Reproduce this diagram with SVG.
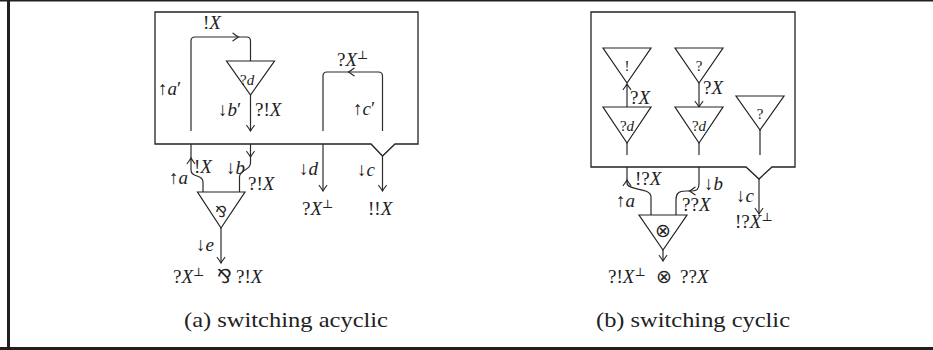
<svg xmlns="http://www.w3.org/2000/svg" width="933" height="350" viewBox="0 0 933 350">
<style>
.ln{fill:none;stroke:#2b2b2b;stroke-width:1.2}
.bx{fill:none;stroke:#222;stroke-width:1.3}
.tri{fill:#fff;stroke:#222;stroke-width:1.2}
.ar{fill:none;stroke:none}
.tx{font-family:'Liberation Serif','DejaVu Serif',serif;font-size:19px;fill:#222}
.i{font-style:italic}
.sm{font-size:15px}
.sup{font-size:12px}
.cap{font-family:'Liberation Serif','DejaVu Serif',serif;font-size:22px;fill:#222}
.sym{font-family:'DejaVu Sans',sans-serif}
.fr{stroke:#231f20;fill:none}
</style>
<defs>
<marker id="ah" viewBox="-7 -5 9 10" refX="0" refY="0" markerWidth="9" markerHeight="10" markerUnits="userSpaceOnUse" orient="auto" overflow="visible">
<path d="M-5.5,-3.8 Q-1.8,-1 0,0 Q-1.8,1 -5.5,3.8" fill="none" stroke="#2b2b2b" stroke-width="1.2" stroke-linecap="round"/>
</marker>
</defs>
<g id="frame">
<line class="fr" x1="8.5" y1="0" x2="8.5" y2="350" stroke-width="3"/>
<line class="fr" x1="0" y1="0.7" x2="933" y2="0.7" stroke-width="1.5"/>
<line class="fr" x1="0" y1="348.5" x2="933" y2="348.5" stroke-width="3"/>
</g>
<g id="box-a"><path class="bx" d="M155,12 H418 V144 H395 L382.5,156 L371,144 H155 Z"/></g>
<g id="box-b"><path class="bx" d="M591,12 H795 V167 H772 L759,179 L746,167 H591 Z"/></g>
<g id="connectors">
<path class="ln" d="M191,131 V41 Q191,37 195,37 H246.5 Q250.5,37 250.5,41 V61"/>
<path class="ar" d="M232,37 H238.5" marker-end="url(#ah)"/>
<path class="ln" d="M250.5,95 V131" marker-end="url(#ah)"/>
<path class="ln" d="M323,131 V76 Q323,72 327,72 H378.5 Q382.5,72 382.5,76 V131"/>
<path class="ar" d="M356,72 H348.5" marker-end="url(#ah)"/>
<path class="ln" d="M191,144 V170 C191,178 203,174 203,182 V192"/>
<path class="ar" d="M191,164 V158" marker-end="url(#ah)"/>
<path class="ln" d="M250.5,144 V163 C250.5,171 239.5,169 239.5,177 V192"/>
<path class="ar" d="M250.5,150 V157" marker-end="url(#ah)"/>
<path class="ln" d="M221,228 V263" marker-end="url(#ah)"/>
<path class="ln" d="M323,144 V191" marker-end="url(#ah)"/>
<path class="ln" d="M382.5,156 V191" marker-end="url(#ah)"/>
<path class="ln" d="M627,107 V84" marker-end="url(#ah)"/>
<path class="ln" d="M699,83 V107" marker-end="url(#ah)"/>
<path class="ln" d="M627,143 V155 M699,143 V155 M760,130 V155"/>
<path class="ln" d="M627,167 V183 C627,191 651,187 651,197 V215"/>
<path class="ar" d="M627,186 V180" marker-end="url(#ah)"/>
<path class="ln" d="M699,167 V184 C699,190 696,191 692,191 H686 C678,191 676,194 676,200 V215"/>
<path class="ar" d="M696,191 H689.5" marker-end="url(#ah)"/>
<path class="ln" d="M663,250 V261" marker-end="url(#ah)"/>
<path class="ln" d="M759,179 V214" marker-end="url(#ah)"/>
</g>
<g id="node-a-whynot-d"><polygon class="tri" points="226.5,61 274.5,61 250.5,95"/><text class="tx sm" x="240" y="85">?<tspan class="i">d</tspan></text></g>
<g id="node-a-par"><polygon class="tri" points="197.5,192 245,192 221,228"/><text class="tx sym sm" x="221" y="217" text-anchor="middle">⅋</text></g>
<g id="node-b-bang"><polygon class="tri" points="603,48 651,48 627,83"/><text class="tx sm" x="627" y="71" text-anchor="middle">!</text></g>
<g id="node-b-whynot1"><polygon class="tri" points="675,48 723,48 699,83"/><text class="tx sm" x="699" y="71" text-anchor="middle">?</text></g>
<g id="node-b-d1"><polygon class="tri" points="603,107 651,107 627,143"/><text class="tx sm" x="627" y="131" text-anchor="middle">?<tspan class="i">d</tspan></text></g>
<g id="node-b-d2"><polygon class="tri" points="675,107 723,107 699,143"/><text class="tx sm" x="699" y="131" text-anchor="middle">?<tspan class="i">d</tspan></text></g>
<g id="node-b-whynot2"><polygon class="tri" points="736,96 784,96 760,130"/><text class="tx sm" x="760" y="119" text-anchor="middle">?</text></g>
<g id="node-b-tensor"><polygon class="tri" points="639,215 687,215 663,250"/><text class="tx sym" x="663" y="237" text-anchor="middle">⊗</text></g>
<g id="labels-a">
<text class="tx" x="203" y="29">!<tspan class="i">X</tspan></text>
<text class="tx" x="158" y="95">↑<tspan class="i">a</tspan>′</text>
<text class="tx" x="218" y="116">↓<tspan class="i">b</tspan>′</text>
<text class="tx" x="255" y="116">?!<tspan class="i">X</tspan></text>
<text class="tx" x="337" y="66">?<tspan class="i">X</tspan><tspan class="sup" dy="-7">⊥</tspan></text>
<text class="tx" x="353" y="115">↑<tspan class="i">c</tspan>′</text>
<text class="tx" x="194" y="173">!<tspan class="i">X</tspan></text>
<text class="tx" x="169" y="184">↑<tspan class="i">a</tspan></text>
<text class="tx" x="226" y="174">↓<tspan class="i">b</tspan></text>
<text class="tx" x="248" y="190">?!<tspan class="i">X</tspan></text>
<text class="tx" x="196" y="251">↓<tspan class="i">e</tspan></text>
<text class="tx" x="173" y="283">?<tspan class="i">X</tspan><tspan class="sup" dy="-7">⊥</tspan><tspan class="sym" x="217" dy="7">⅋</tspan><tspan x="236">?!</tspan><tspan class="i">X</tspan></text>
<text class="tx" x="299" y="175">↓<tspan class="i">d</tspan></text>
<text class="tx" x="357" y="176">↓<tspan class="i">c</tspan></text>
<text class="tx" x="302" y="215">?<tspan class="i">X</tspan><tspan class="sup" dy="-7">⊥</tspan></text>
<text class="tx" x="368" y="215">!!<tspan class="i">X</tspan></text>
</g>
<g id="labels-b">
<text class="tx" x="630" y="104">?<tspan class="i">X</tspan></text>
<text class="tx" x="703" y="94">?<tspan class="i">X</tspan></text>
<text class="tx" x="635" y="185">!?<tspan class="i">X</tspan></text>
<text class="tx" x="616" y="207">↑<tspan class="i">a</tspan></text>
<text class="tx" x="704" y="190">↓<tspan class="i">b</tspan></text>
<text class="tx" x="682" y="211">??<tspan class="i">X</tspan></text>
<text class="tx" x="736" y="202">↓<tspan class="i">c</tspan></text>
<text class="tx" x="735" y="228">!?<tspan class="i">X</tspan><tspan class="sup" dy="-7">⊥</tspan></text>
<text class="tx" x="608" y="283">?!<tspan class="i">X</tspan><tspan class="sup" dy="-7">⊥</tspan><tspan class="sym" x="656" dy="7">⊗</tspan><tspan x="680">??</tspan><tspan class="i">X</tspan></text>
</g>
<g id="captions">
<text class="cap" x="184" y="327" textLength="204" lengthAdjust="spacingAndGlyphs">(a) switching acyclic</text>
<text class="cap" x="596" y="327" textLength="194" lengthAdjust="spacingAndGlyphs">(b) switching cyclic</text>
</g>
</svg>
